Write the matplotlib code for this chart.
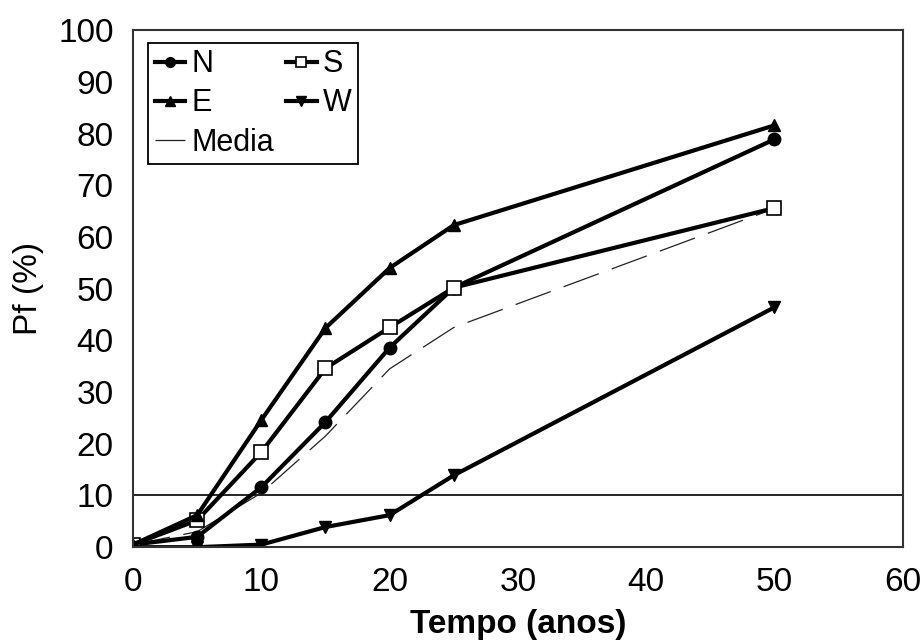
import matplotlib
matplotlib.use("Agg")
import matplotlib.pyplot as plt

plt.rcParams['font.family'] = ['Liberation Sans', 'DejaVu Sans']

# Tempo (anos)
tempo = [0, 5, 10, 15, 20, 25, 50]

# Pf (%) por orientação
pf_n = [0.5, 2.0, 11.6, 24.2, 38.6, 50.2, 78.9]
pf_s = [0.5, 5.2, 18.4, 34.6, 42.5, 50.2, 65.6]
pf_e = [0.5, 6.2, 24.6, 42.4, 54.0, 62.3, 81.6]
pf_w = [0.0, 0.0, 0.5, 3.9, 6.2, 13.9, 46.4]
pf_media = [0.5, 3.0, 10.5, 21.5, 34.5, 42.5, 65.5]

limite = 10

fig = plt.figure(figsize=(9.24, 6.43), dpi=100)
ax = fig.add_axes([0.144, 0.149, 0.833, 0.804])

lw = 3
h_n, = ax.plot(tempo, pf_n, color='black', lw=lw, marker='o', ms=9, label='N')
h_s, = ax.plot(tempo, pf_s, color='black', lw=lw, marker='s', ms=9.5,
               mfc='white', mec='black', mew=1.2, label='S')
h_e, = ax.plot(tempo, pf_e, color='black', lw=lw, marker='^', ms=9, label='E')
h_w, = ax.plot(tempo, pf_w, color='black', lw=lw, marker='v', ms=9, label='W')
h_m, = ax.plot(tempo, pf_media, color='#222222', lw=0.9, dashes=(30, 11),
               label='Media', zorder=1)

ax.axhline(limite, color='black', lw=1.2, zorder=0)

ax.set_xlim(0, 60)
ax.set_ylim(0, 100)
ax.set_xticks(range(0, 61, 10))
ax.set_yticks(range(0, 101, 10))
ax.tick_params(length=0, labelsize=24, pad=14)
for s in ax.spines.values():
    s.set_linewidth(1.5)
    s.set_color('#333333')

ax.set_xlabel('Tempo (anos)', fontsize=24, fontweight='bold', labelpad=8)
ax.set_ylabel('Pf (%)', fontsize=24, labelpad=10)

leg = ax.legend(handles=[h_n, h_e, h_m, h_s, h_w], ncol=2, loc='upper left',
                bbox_to_anchor=(0.02, 0.975), fontsize=22, frameon=True,
                fancybox=False, edgecolor='black', framealpha=1,
                handlelength=1.0, handletextpad=0.2, columnspacing=0.4,
                labelspacing=0.3, borderpad=0.2, borderaxespad=0)
leg.get_frame().set_linewidth(1.3)
for h in leg.legend_handles:
    h.set_markersize(7)

fig.savefig('out.png', dpi=100)
